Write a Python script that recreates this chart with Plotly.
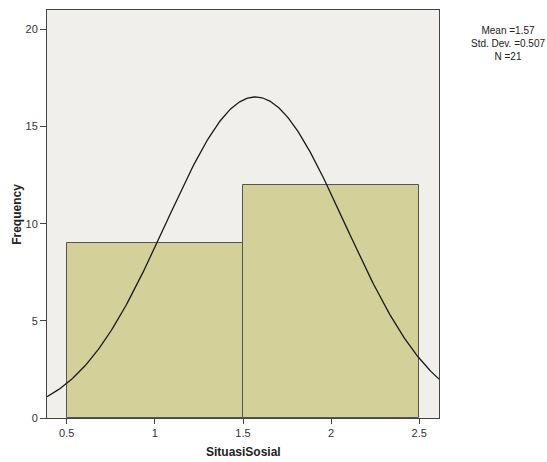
import numpy as np
import plotly.graph_objects as go

# Histogram bins (SituasiSosial) and their counts
bin_centers = [1, 2]
bin_width = 1
frequencies = [9, 12]

# Summary statistics shown beside the chart
mean_val = 1.57
std_dev = 0.507
n_obs = 21

x_ticks = [0.5, 1, 1.5, 2, 2.5]
x_tick_text = ["0.5", "1", "1.5", "2", "2.5"]
y_ticks = [0, 5, 10, 15, 20]

x_range = [0.388, 2.612]
y_range = [0, 21]

# Normal curve scaled to counts for the given mean / sd / N
xs = np.linspace(x_range[0], x_range[1], 300)
ys = n_obs * bin_width / (std_dev * np.sqrt(2 * np.pi)) * np.exp(-0.5 * ((xs - mean_val) / std_dev) ** 2)

fig = go.Figure()
fig.add_trace(go.Bar(
    x=bin_centers, y=frequencies, width=bin_width,
    marker=dict(color="#d4d09a", line=dict(color="#555555", width=1)),
    hoverinfo="skip",
))
fig.add_trace(go.Scatter(
    x=xs, y=ys, mode="lines",
    line=dict(color="#1a1a1a", width=1.3),
    hoverinfo="skip",
))

axis_font = dict(family="Arial, Liberation Sans, sans-serif", size=11, color="#333333")

fig.update_layout(
    width=547, height=462,
    margin=dict(l=47, r=108, t=10, b=44),
    paper_bgcolor="white",
    plot_bgcolor="#f0efeb",
    showlegend=False,
    bargap=0,
    xaxis=dict(
        range=x_range, tickvals=x_ticks, ticktext=x_tick_text,
        showgrid=False, zeroline=False,
        showline=True, linecolor="#444444", linewidth=1, mirror=True,
        ticks="outside", ticklen=5, tickcolor="#444444",
        tickfont=axis_font,
    ),
    yaxis=dict(
        range=y_range, tickvals=y_ticks,
        showgrid=False, zeroline=False,
        showline=True, linecolor="#444444", linewidth=1, mirror=True,
        ticks="outside", ticklen=6, tickcolor="#444444",
        tickfont=axis_font,
    ),
    annotations=[
        dict(
            text=f"Mean ={mean_val}<br>Std. Dev. ={std_dev}<br>N ={n_obs}",
            xref="paper", yref="paper", x=1.176, y=0.919,
            xanchor="center", yanchor="middle", align="center",
            showarrow=False,
            font=dict(family="Arial, Liberation Sans, sans-serif", size=10, color="#222222"),
        ),
        dict(
            text="<b>SituasiSosial</b>",
            xref="paper", yref="paper", x=0.5, y=-0.083,
            xanchor="center", yanchor="middle", showarrow=False,
            font=dict(family="Arial, Liberation Sans, sans-serif", size=12, color="#222222"),
        ),
        dict(
            text="<b>Frequency</b>",
            xref="paper", yref="paper", x=-0.077, y=0.5,
            xanchor="center", yanchor="middle", showarrow=False, textangle=-90,
            font=dict(family="Arial, Liberation Sans, sans-serif", size=12, color="#222222"),
        ),
    ],
)

fig.write_html("out.html")
